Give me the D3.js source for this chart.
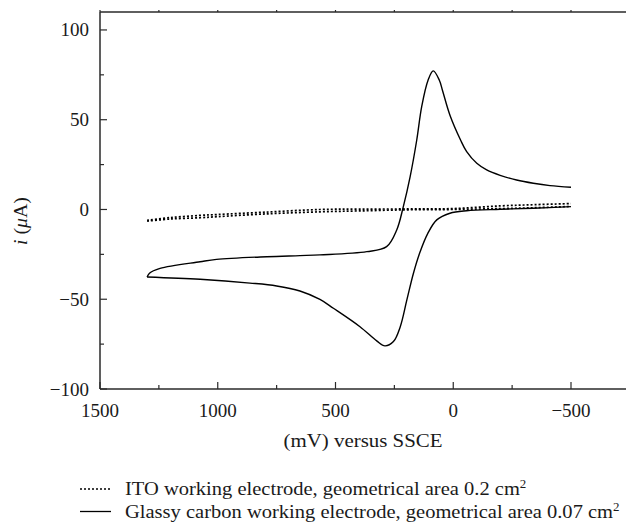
<!DOCTYPE html>
<html>
<head>
<meta charset="utf-8">
<script src="https://cdn.jsdelivr.net/npm/d3@7"></script>
<style>
  body { margin: 0; background: #fff; }
  svg { display: block; }
  text { font-family: "Liberation Serif", "Times New Roman", serif; fill: #1a1a1a; }
</style>
</head>
<body>
<svg id="chart" width="626" height="523"></svg>
<script>
// ---- Data ----
// Glassy carbon electrode: cathodic sweep (1300 -> -500 mV)
const gcForwardPotential = [1300, 1075, 863, 750, 651, 566, 509, 396, 325, 290, 254, 225, 197, 169, 141, 108, 70, 14, -57, -199, -340, -500];
const gcForwardCurrent   = [-37.6, -38.9, -41.0, -42.6, -45.4, -50.1, -55, -65.3, -73.2, -76, -73.6, -65.3, -50.4, -35.5, -23.7, -13.3, -5.8, -2.1, -0.7, 0.1, 0.7, 1.6];
// Glassy carbon electrode: anodic sweep (-500 -> 1300 mV)
const gcReversePotential = [-500, -411, -340, -269, -199, -142, -100, -57, -31, 14, 45, 59, 85, 107, 134, 155, 183, 212, 240, 283, 367, 566, 651, 792, 1005, 1075, 1245, 1290, 1300];
const gcReverseCurrent   = [12.4, 13.3, 14.6, 16.4, 19.0, 22.0, 25.7, 32.2, 38.7, 52.5, 66, 72, 77.2, 72, 57.3, 38.7, 18.3, 1.6, -11.4, -20.7, -23.5, -25.3, -25.7, -26.3, -27.8, -29.1, -32.8, -35.5, -37.6];
// ITO electrode
const itoPotential      = [1300, 1200, 1075, 1000, 800, 565, 400, 200, 0, -200, -350, -500];
const itoForwardCurrent = [-6.5, -5.3, -4.6, -4, -2.5, -1.3, -0.8, -0.2, 0, 0.5, 1, 1.7];
const itoReverseCurrent = [-6, -4.5, -3.3, -2.8, -1.5, 0, 0.2, 0.3, 0.5, 2, 2.7, 3.3];

const xMajorTicks = [1500, 1000, 500, 0, -500];
const xMinorTicks = [1250, 750, 250, -250];
const yMajorTicks = [100, 50, 0, -50, -100];
const yMinorTicks = [75, 25, -25, -75];

const legendLabels = [
  { text: "ITO working electrode, geometrical area 0.2 cm", sup: "2", dash: "2,2" },
  { text: "Glassy carbon working electrode, geometrical area 0.07 cm", sup: "2", dash: null }
];

// ---- Layout ----
const svg = d3.select("#chart");
const pLeft = 100, pRight = 626, pTop = 12, pBottom = 389;
const x = d3.scaleLinear().domain([1500, -500]).range([pLeft, 571]);
const y = d3.scaleLinear().domain([-100, 110]).range([pBottom, pTop]);
const axisColor = "#2a2a2a";
const stretch = 1.1;

// spines (no right spine in the reference)
svg.append("line").attr("x1", pLeft).attr("x2", pRight).attr("y1", pTop).attr("y2", pTop)
  .attr("stroke", axisColor).attr("stroke-width", 1.5);
svg.append("line").attr("x1", pLeft).attr("x2", pRight).attr("y1", pBottom).attr("y2", pBottom)
  .attr("stroke", axisColor).attr("stroke-width", 1.5);
svg.append("line").attr("x1", pLeft).attr("x2", pLeft).attr("y1", pTop).attr("y2", pBottom)
  .attr("stroke", axisColor).attr("stroke-width", 1.5);

// ticks
const tg = svg.append("g").attr("stroke", axisColor).attr("stroke-width", 1.2);
xMajorTicks.forEach(v => {
  tg.append("line").attr("x1", x(v)).attr("x2", x(v)).attr("y1", pBottom).attr("y2", pBottom - 7);
});
xMinorTicks.forEach(v => {
  tg.append("line").attr("x1", x(v)).attr("x2", x(v)).attr("y1", pBottom).attr("y2", pBottom - 4);
});
xMajorTicks.concat(xMinorTicks).forEach(v => {
  tg.append("line").attr("x1", x(v)).attr("x2", x(v)).attr("y1", pTop).attr("y2", pTop - 2);
});
yMajorTicks.forEach(v => {
  tg.append("line").attr("x1", pLeft).attr("x2", pLeft + 7).attr("y1", y(v)).attr("y2", y(v));
});
yMinorTicks.forEach(v => {
  tg.append("line").attr("x1", pLeft).attr("x2", pLeft + 4).attr("y1", y(v)).attr("y2", y(v));
});

const fmt = v => (v < 0 ? "\u2212" + Math.abs(v) : String(v));
svg.append("g").selectAll("text").data(xMajorTicks).join("text")
  .attr("x", d => x(d)).attr("y", 417).attr("text-anchor", "middle")
  .attr("font-size", 19).text(fmt);
svg.append("g").selectAll("text").data(yMajorTicks).join("text")
  .attr("x", 89).attr("y", d => y(d) + 6.5).attr("text-anchor", "end")
  .attr("font-size", 19).text(fmt);

// axis titles
svg.append("text").attr("transform", `translate(363,447) scale(${stretch},1)`)
  .attr("text-anchor", "middle").attr("font-size", 19).text("(mV) versus SSCE");
const yt = svg.append("text").attr("transform", `translate(27,221) rotate(-90) scale(${stretch},1)`)
  .attr("text-anchor", "middle").attr("font-size", 18);
yt.append("tspan").attr("font-style", "italic").text("i");
yt.append("tspan").text(" (");
yt.append("tspan").attr("font-style", "italic").text("\u03BC");
yt.append("tspan").text("A)");

// ---- Curves ----
const line = d3.line().x(d => x(d[0])).y(d => y(d[1])).curve(d3.curveCatmullRom.alpha(0.5));
const byX = arr => arr.slice().sort((a, b) => x(a[0]) - x(b[0]));
svg.append("path").attr("d", line(byX(d3.zip(gcForwardPotential, gcForwardCurrent))))
  .attr("fill", "none").attr("stroke", "#000").attr("stroke-width", 1.4);
svg.append("path").attr("d", line(byX(d3.zip(gcReversePotential, gcReverseCurrent))))
  .attr("fill", "none").attr("stroke", "#000").attr("stroke-width", 1.4);

[itoForwardCurrent, itoReverseCurrent].forEach(cur => {
  svg.append("path").attr("d", line(byX(d3.zip(itoPotential, cur)))).attr("fill", "none")
    .attr("stroke", "#000").attr("stroke-width", 1.7).attr("stroke-dasharray", "2,2");
});

// ---- Legend ----
const lg = svg.append("g");
legendLabels.forEach((l, i) => {
  const cy = 489 + i * 22.5;
  lg.append("line").attr("x1", 80).attr("x2", 111).attr("y1", cy).attr("y2", cy)
    .attr("stroke", "#000").attr("stroke-width", 1.3)
    .attr("stroke-dasharray", l.dash);
  const t = lg.append("text").attr("transform", `translate(125,${cy + 6}) scale(1.08,1)`)
    .attr("font-size", 19);
  t.append("tspan").text(l.text);
  t.append("tspan").attr("font-size", 12).attr("dy", -7).text(l.sup);
});
</script>
</body>
</html>
